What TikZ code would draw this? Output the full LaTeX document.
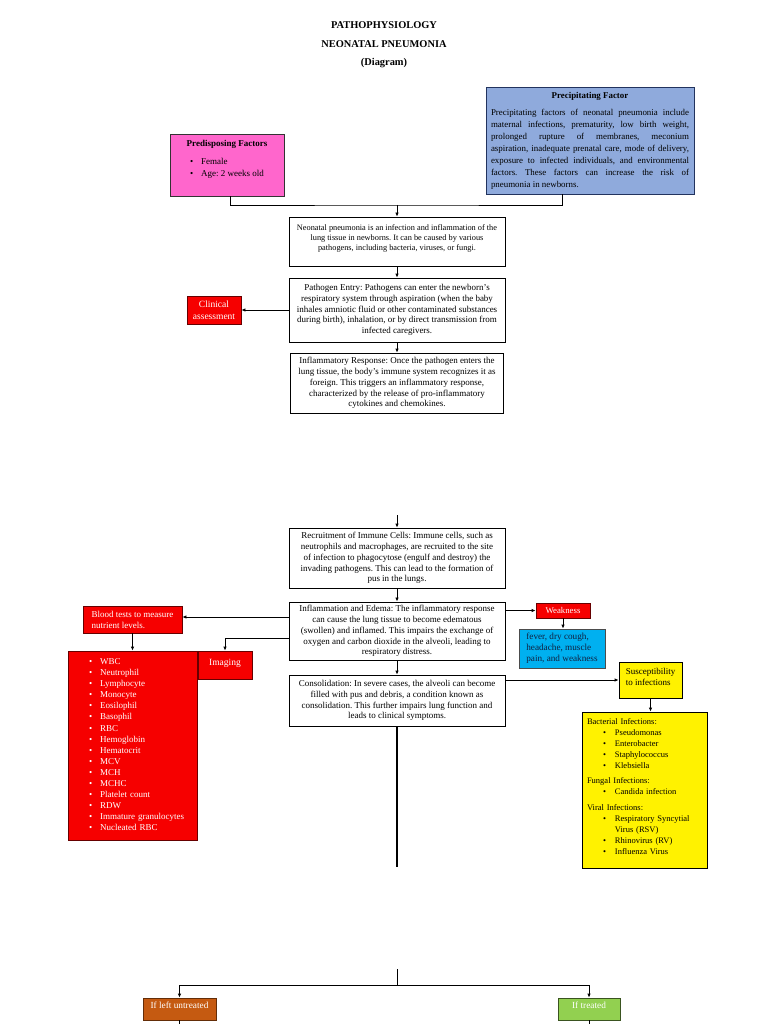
\documentclass[tikz,border=0pt]{standalone}
\usepackage{fontspec}
\setmainfont{Liberation Serif}
\usetikzlibrary{arrows.meta}
\frenchspacing

\definecolor{pinkfill}{HTML}{FF66CC}
\definecolor{bluefill}{HTML}{8FAADC}
\definecolor{blueline}{HTML}{22335E}
\definecolor{redfill}{HTML}{F60000}
\definecolor{cyanfill}{HTML}{00B0F0}
\definecolor{cyantext}{HTML}{102040}
\definecolor{untreatedfill}{HTML}{C55A11}
\definecolor{treatedfill}{HTML}{92D050}

\tikzset{
  stepbox/.style={draw=black, line width=0.8pt, fill=white, align=center, minimum width=216, font=\fontsize{9}{10.8}\selectfont},
  redbox/.style={draw=red!40!black, line width=0.8pt, fill=redfill, text=white, align=center, font=\fontsize{9}{11.1}\selectfont},
  yellowbox/.style={draw=black, line width=0.8pt, fill=yellow, align=left, font=\fontsize{9}{11}\selectfont},
  link/.style={line width=0.8pt},
  flow/.style={link, -{Latex[length=4pt,width=3.5pt]}},
}

\begin{document}
\begin{tikzpicture}[x=1pt, y=-1pt]
\useasboundingbox (0,0) rectangle (768,1024);

\node[font=\fontsize{10.4}{18.5}\selectfont\bfseries, align=center] (title) at (384,45) {PATHOPHYSIOLOGY\\NEONATAL PNEUMONIA\\(Diagram)};

\node[draw=black!80, line width=0.8pt, fill=pinkfill, align=center, minimum width=114, minimum height=62, font=\fontsize{9}{12}\selectfont] (pre) at (227,165) {\textbf{Predisposing Factors}\\[6pt]
\begin{tabular}[t]{@{}l@{\hspace{8pt}}l@{}}\textbullet & Female\\ \textbullet & Age: 2 weeks old\\[10pt]\end{tabular}};

\node[draw=blueline, line width=0.8pt, fill=bluefill, text width=198, inner xsep=5, minimum height=107, align=justify, font=\fontsize{8.9}{12}\selectfont] (prec) at (590,140.5) {{\centering\textbf{Precipitating Factor}\par}\vspace{5pt}Precipitating factors of neonatal pneumonia include\linebreak maternal infections, prematurity, low birth weight,\linebreak prolonged rupture of membranes, meconium\linebreak aspiration, inadequate prenatal care, mode of delivery,\linebreak exposure to infected individuals, and environmental\linebreak factors. These factors can increase the risk of\linebreak pneumonia in newborns.};

\node[stepbox, minimum height=49, text depth=7pt, font=\fontsize{8.3}{10}\selectfont] (def) at (397,241.5) {Neonatal pneumonia is an infection and inflammation of the\\lung tissue in newborns. It can be caused by various\\pathogens, including bacteria, viruses, or fungi.};
\node[stepbox, minimum height=64] (entry) at (397,310) {Pathogen Entry: Pathogens can enter the newborn's\\respiratory system through aspiration (when the baby\\inhales amniotic fluid or other contaminated substances\\during birth), inhalation, or by direct transmission from\\infected caregivers.};
\node[stepbox, minimum width=213, minimum height=60] (resp) at (397,383) {Inflammatory Response: Once the pathogen enters the\\lung tissue, the body's immune system recognizes it as\\foreign. This triggers an inflammatory response,\\characterized by the release of pro-inflammatory\\cytokines and chemokines.};
\node[stepbox, minimum height=60] (recruit) at (397,558) {Recruitment of Immune Cells: Immune cells, such as\\neutrophils and macrophages, are recruited to the site\\of infection to phagocytose (engulf and destroy) the\\invading pathogens. This can lead to the formation of\\pus in the lungs.};
\node[stepbox, minimum height=58] (edema) at (397,631) {Inflammation and Edema: The inflammatory response\\can cause the lung tissue to become edematous\\(swollen) and inflamed. This impairs the exchange of\\oxygen and carbon dioxide in the alveoli, leading to\\respiratory distress.};
\node[stepbox, minimum height=51] (consol) at (397,700.5) {Consolidation: In severe cases, the alveoli can become\\filled with pus and debris, a condition known as\\consolidation. This further impairs lung function and\\leads to clinical symptoms.};

\node[redbox, minimum width=54, minimum height=28, font=\fontsize{9.5}{12}\selectfont] (clinical) at (214,310) {Clinical\\assessment};
\node[redbox, align=left, minimum width=99, minimum height=27] (blood) at (132.5,619.5) {Blood tests to measure\\nutrient levels.};
\node[redbox, minimum width=54, minimum height=28, text depth=6pt, font=\fontsize{9.5}{11}\selectfont] (imaging) at (225,665) {Imaging};
\node[redbox, align=left, text width=119, inner xsep=5, minimum height=189] (labs) at (132.5,745.5) {\begin{tabular}{@{\hspace{16pt}}c@{\hspace{8pt}}l@{}}
\textbullet & WBC\\ \textbullet & Neutrophil\\ \textbullet & Lymphocyte\\ \textbullet & Monocyte\\
\textbullet & Eosilophil\\ \textbullet & Basophil\\ \textbullet & RBC\\ \textbullet & Hemoglobin\\
\textbullet & Hematocrit\\ \textbullet & MCV\\ \textbullet & MCH\\ \textbullet & MCHC\\
\textbullet & Platelet count\\ \textbullet & RDW\\ \textbullet & Immature granulocytes\\ \textbullet & Nucleated RBC
\end{tabular}};

\node[redbox, minimum width=54, minimum height=15, inner sep=1pt, font=\fontsize{8.8}{10}\selectfont] (weakness) at (563,610.5) {Weakness};
\node[draw=black!70, line width=0.8pt, fill=cyanfill, text=cyantext, align=left, minimum width=86, minimum height=39, font=\fontsize{9.2}{11}\selectfont] (signs) at (562,648.5) {fever, dry cough,\\headache, muscle\\pain, and weakness};
\node[yellowbox, minimum width=63, minimum height=36, text depth=6pt] (suscept) at (650.5,680) {Susceptibility\\to infections};
\node[yellowbox, text width=115, inner xsep=5, minimum height=156, font=\fontsize{8.5}{11}\selectfont] (infect) at (644.5,790) {\begin{tabular}{@{\hspace{16pt}}c@{\hspace{9pt}}l@{}}
\multicolumn{2}{@{}l@{}}{Bacterial Infections:}\\
\textbullet & Pseudomonas\\ \textbullet & Enterobacter\\ \textbullet & Staphylococcus\\ \textbullet & Klebsiella\\[4.5pt]
\multicolumn{2}{@{}l@{}}{Fungal Infections:}\\
\textbullet & Candida infection\\[4.5pt]
\multicolumn{2}{@{}l@{}}{Viral Infections:}\\
\textbullet & Respiratory Syncytial\\ & Virus (RSV)\\ \textbullet & Rhinovirus (RV)\\ \textbullet & Influenza Virus\\[6pt]
\end{tabular}};

\node[redbox, fill=untreatedfill, draw=untreatedfill!50!black, minimum width=73, minimum height=22, text depth=8pt, font=\fontsize{9.3}{11}\selectfont] (untreated) at (179.5,1009) {If left untreated};
\node[redbox, fill=treatedfill, draw=treatedfill!40!black, minimum width=62, minimum height=22, text depth=8pt, font=\fontsize{9.3}{11}\selectfont] (treated) at (589,1009) {If treated};

\coordinate (merge) at (397,205);
\coordinate (resume) at (397,515);
\coordinate (stem) at (397,867);
\coordinate (fork) at (397,969);
\coordinate (split) at (397,985);

\draw[link] ([xshift=3]pre.south) |- (merge) -| ([xshift=-28]prec.south);
\draw[flow] (merge) -- (def.north);
\draw[flow] (def) -- (entry);
\draw[flow] (entry) -- (resp);
\draw[flow] (entry.west) -- (clinical.east);
\draw[flow] (resume) -- (recruit.north);
\draw[flow] (recruit) -- (edema);
\draw[flow] (edema) -- (consol);
\draw[flow] ([yshift=14]edema.west) -- ([yshift=14]edema.west -| blood.east);
\draw[flow] ([yshift=-7]edema.west) -| (imaging.north);
\draw[flow] (blood) -- (labs);
\draw[flow] (weakness.west -| edema.east) -- (weakness.west);
\draw[flow] (weakness.south) -- (weakness.south |- signs.north);
\draw[flow] (suscept.west -| consol.east) -- (suscept.west);
\draw[flow] (suscept.south) -- (suscept.south |- infect.north);
\draw[line width=2pt] (consol.south) -- (stem);
\draw[link] (fork) -- (split);
\draw[flow] (split) -| (untreated.north);
\draw[flow] (split) -| (treated.north);
\draw[link] (untreated.south) -- ++(0,8);
\draw[link] (treated.south) -- ++(0,8);

\end{tikzpicture}
\end{document}
